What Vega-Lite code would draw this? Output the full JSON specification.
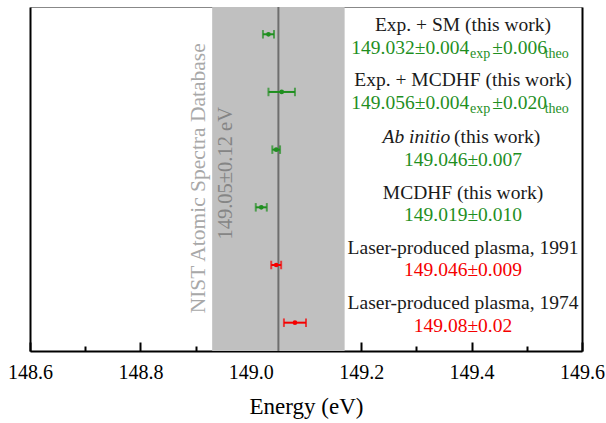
{
  "$schema": "https://vega.github.io/schema/vega-lite/v6.json",
  "width": 552,
  "height": 344,
  "autosize": "none",
  "padding": {"left": 30, "top": 7, "right": 24, "bottom": 72},
  "background": "white",
  "config": {"font": "Liberation Serif", "view": {"stroke": null}},
  "datasets": {
    "nist": [{"center": 149.05, "lo": 148.93, "hi": 149.17}],
    "nistName": [{"t": "NIST Atomic Spectra Database", "x": 148.906, "y": 3.497}],
    "nistVal": [{"t": "149.05±0.12 eV", "x": 148.955, "y": 3.41}],
    "pts": [
      {"row": 1, "value": 149.032, "lo": 149.022, "hi": 149.042, "src": "this"},
      {"row": 2, "value": 149.056, "lo": 149.032, "hi": 149.080, "src": "this"},
      {"row": 3, "value": 149.046, "lo": 149.039, "hi": 149.053, "src": "this"},
      {"row": 4, "value": 149.019, "lo": 149.009, "hi": 149.029, "src": "this"},
      {"row": 5, "value": 149.046, "lo": 149.037, "hi": 149.055, "src": "prev"},
      {"row": 6, "value": 149.08, "lo": 149.06, "hi": 149.10, "src": "prev"}
    ],
    "labelsC": [
      {"t": "Exp. + SM (this work)", "x": 149.3844, "y": 0.95},
      {"t": "Exp. + MCDHF (this work)", "x": 149.3844, "y": 1.905},
      {"t": "MCDHF (this work)", "x": 149.3844, "y": 3.85},
      {"t": "Laser-produced plasma, 1991", "x": 149.3844, "y": 4.805},
      {"t": "Laser-produced plasma, 1974", "x": 149.3844, "y": 5.758}
    ],
    "abItalic": [{"t": "Ab initio", "x": 149.3614, "y": 2.886}],
    "abRest": [{"t": "(this work)", "x": 149.3683, "y": 2.886}],
    "valC": [
      {"t": "149.046±0.007", "x": 149.3844, "y": 3.284, "src": "this"},
      {"t": "149.019±0.010", "x": 149.3844, "y": 4.24, "src": "this"},
      {"t": "149.046±0.009", "x": 149.3844, "y": 5.192, "src": "prev"},
      {"t": "149.08±0.02", "x": 149.3844, "y": 6.156, "src": "prev"}
    ],
    "valMain": [
      {"t": "149.032±0.004", "x": 149.3958, "y": 1.35, "src": "this"},
      {"t": "149.056±0.004", "x": 149.3958, "y": 2.302, "src": "this"}
    ],
    "valPm": [
      {"t": "±0.006", "x": 149.4375, "y": 1.35, "src": "this"},
      {"t": "±0.020", "x": 149.4375, "y": 2.302, "src": "this"}
    ],
    "subExp": [
      {"t": "exp", "x": 149.3971, "y": 1.419, "src": "this"},
      {"t": "exp", "x": 149.3971, "y": 2.371, "src": "this"}
    ],
    "subTheo": [
      {"t": "theo", "x": 149.5324, "y": 1.419, "src": "this"},
      {"t": "theo", "x": 149.5324, "y": 2.371, "src": "this"}
    ]
  },
  "resolve": {"axis": {"x": "independent", "y": "independent"}},
  "layer": [
    {
      "data": {"name": "nist"},
      "mark": {"type": "rect", "color": "#c0c0c0"},
      "encoding": {
        "x": {
          "field": "lo", "type": "quantitative",
          "scale": {"domain": [148.6, 149.6], "nice": false, "zero": false},
          "axis": {
            "values": [148.6, 148.7, 148.8, 148.9, 149.0, 149.1, 149.2, 149.3, 149.4, 149.5, 149.6],
            "labelExpr": "round(datum.value*10)%2==0 ? format(datum.value,'.1f') : ''",
            "tickSize": {"condition": {"test": "round(datum.value*10)%2==1", "value": -5}, "value": -9},
            "tickColor": "black", "tickWidth": 2,
            "domainColor": "black", "domainWidth": 2,
            "grid": false,
            "labelFont": "Liberation Serif", "labelFontSize": 20, "labelColor": "black",
            "labelFlush": false, "labelOverlap": false, "labelPadding": 20,
            "title": "Energy (eV)", "titleFont": "Liberation Serif", "titleFontSize": 23,
            "titleFontWeight": "normal", "titleColor": "black", "titlePadding": 9
          }
        },
        "x2": {"field": "hi"}
      }
    },
    {
      "data": {"name": "nist"},
      "mark": {"type": "rule", "color": "#6e6e6e", "strokeWidth": 2},
      "encoding": {"x": {"field": "center", "type": "quantitative", "axis": null}}
    },
    {
      "data": {"name": "nistName"},
      "mark": {"type": "text", "angle": 270, "align": "center", "baseline": "middle", "fontSize": 21.5, "color": "#a8a8a8", "font": "Liberation Serif"},
      "encoding": {
        "x": {"field": "x", "type": "quantitative", "axis": null},
        "y": {"field": "y", "type": "quantitative", "axis": null, "scale": {"domain": [0.527, 6.491], "reverse": true, "nice": false, "zero": false}},
        "text": {"field": "t"}
      }
    },
    {
      "data": {"name": "nistVal"},
      "mark": {"type": "text", "angle": 270, "align": "center", "baseline": "middle", "fontSize": 20.5, "color": "#858585", "font": "Liberation Serif"},
      "encoding": {
        "x": {"field": "x", "type": "quantitative", "axis": null},
        "y": {"field": "y", "type": "quantitative", "axis": null},
        "text": {"field": "t"}
      }
    },
    {
      "data": {"name": "pts"},
      "mark": {"type": "rule", "strokeWidth": 2},
      "encoding": {
        "x": {"field": "lo", "type": "quantitative", "axis": {"orient": "top", "domainColor": "#888888", "domainWidth": 1, "ticks": false, "labels": false, "title": null, "grid": false}},
        "x2": {"field": "hi"},
        "y": {"field": "row", "type": "quantitative", "axis": {"orient": "left", "domainColor": "black", "domainWidth": 2, "ticks": false, "labels": false, "title": null, "grid": false}},
        "color": {"field": "src", "type": "nominal", "scale": {"domain": ["this", "prev"], "range": ["#1f8f1f", "#f50000"]}, "legend": null}
      }
    },
    {
      "data": {"name": "pts"},
      "mark": {"type": "tick", "orient": "vertical", "size": 8.5, "thickness": 2},
      "encoding": {
        "x": {"field": "lo", "type": "quantitative", "axis": null},
        "y": {"field": "row", "type": "quantitative", "axis": {"orient": "right", "domainColor": "black", "domainWidth": 2, "ticks": false, "labels": false, "title": null, "grid": false}},
        "color": {"field": "src", "type": "nominal", "legend": null}
      }
    },
    {
      "data": {"name": "pts"},
      "mark": {"type": "tick", "orient": "vertical", "size": 8.5, "thickness": 2},
      "encoding": {
        "x": {"field": "hi", "type": "quantitative", "axis": null},
        "y": {"field": "row", "type": "quantitative", "axis": null},
        "color": {"field": "src", "type": "nominal", "legend": null}
      }
    },
    {
      "data": {"name": "pts"},
      "mark": {"type": "point", "filled": true, "size": 22, "opacity": 1},
      "encoding": {
        "x": {"field": "value", "type": "quantitative", "axis": null},
        "y": {"field": "row", "type": "quantitative", "axis": null},
        "color": {"field": "src", "type": "nominal", "legend": null}
      }
    },
    {
      "data": {"name": "labelsC"},
      "mark": {"type": "text", "align": "center", "baseline": "alphabetic", "fontSize": 19.5, "color": "#1a1a1a", "font": "Liberation Serif"},
      "encoding": {
        "x": {"field": "x", "type": "quantitative", "axis": null},
        "y": {"field": "y", "type": "quantitative", "axis": null},
        "text": {"field": "t"}
      }
    },
    {
      "data": {"name": "abItalic"},
      "mark": {"type": "text", "align": "right", "baseline": "alphabetic", "fontSize": 19.5, "fontStyle": "italic", "color": "#1a1a1a", "font": "Liberation Serif"},
      "encoding": {
        "x": {"field": "x", "type": "quantitative", "axis": null},
        "y": {"field": "y", "type": "quantitative", "axis": null},
        "text": {"field": "t"}
      }
    },
    {
      "data": {"name": "abRest"},
      "mark": {"type": "text", "align": "left", "baseline": "alphabetic", "fontSize": 19.5, "color": "#1a1a1a", "font": "Liberation Serif"},
      "encoding": {
        "x": {"field": "x", "type": "quantitative", "axis": null},
        "y": {"field": "y", "type": "quantitative", "axis": null},
        "text": {"field": "t"}
      }
    },
    {
      "data": {"name": "valC"},
      "mark": {"type": "text", "align": "center", "baseline": "alphabetic", "fontSize": 19.5, "font": "Liberation Serif"},
      "encoding": {
        "x": {"field": "x", "type": "quantitative", "axis": null},
        "y": {"field": "y", "type": "quantitative", "axis": null},
        "text": {"field": "t"},
        "color": {"field": "src", "type": "nominal", "legend": null}
      }
    },
    {
      "data": {"name": "valMain"},
      "mark": {"type": "text", "align": "right", "baseline": "alphabetic", "fontSize": 19.5, "font": "Liberation Serif"},
      "encoding": {
        "x": {"field": "x", "type": "quantitative", "axis": null},
        "y": {"field": "y", "type": "quantitative", "axis": null},
        "text": {"field": "t"},
        "color": {"field": "src", "type": "nominal", "legend": null}
      }
    },
    {
      "data": {"name": "valPm"},
      "mark": {"type": "text", "align": "left", "baseline": "alphabetic", "fontSize": 19.5, "font": "Liberation Serif"},
      "encoding": {
        "x": {"field": "x", "type": "quantitative", "axis": null},
        "y": {"field": "y", "type": "quantitative", "axis": null},
        "text": {"field": "t"},
        "color": {"field": "src", "type": "nominal", "legend": null}
      }
    },
    {
      "data": {"name": "subExp"},
      "mark": {"type": "text", "align": "left", "baseline": "alphabetic", "fontSize": 14, "font": "Liberation Serif"},
      "encoding": {
        "x": {"field": "x", "type": "quantitative", "axis": null},
        "y": {"field": "y", "type": "quantitative", "axis": null},
        "text": {"field": "t"},
        "color": {"field": "src", "type": "nominal", "legend": null}
      }
    },
    {
      "data": {"name": "subTheo"},
      "mark": {"type": "text", "align": "left", "baseline": "alphabetic", "fontSize": 14, "font": "Liberation Serif"},
      "encoding": {
        "x": {"field": "x", "type": "quantitative", "axis": null},
        "y": {"field": "y", "type": "quantitative", "axis": null},
        "text": {"field": "t"},
        "color": {"field": "src", "type": "nominal", "legend": null}
      }
    }
  ]
}
